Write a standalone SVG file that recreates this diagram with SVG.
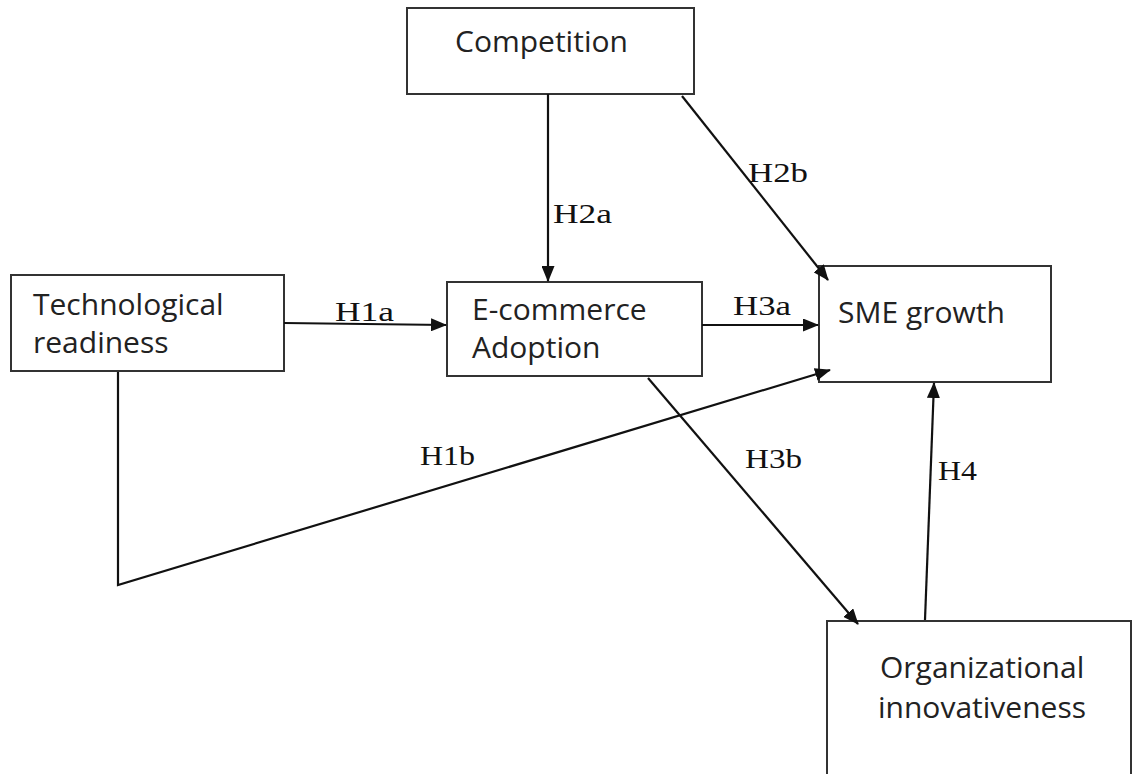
<svg xmlns="http://www.w3.org/2000/svg" width="1133" height="774" viewBox="0 0 1133 774">
<style>
.box{fill:#fff;stroke:#333;stroke-width:2}
.nt{font-family:"Open Sans","Liberation Sans",sans-serif;font-size:30px;fill:#222}
.lb{font-family:"Liberation Serif","Times New Roman",serif;font-size:28px;fill:#111}
.ln{fill:none;stroke:#111;stroke-width:2.2}
</style>
<defs>
<marker id="ah" viewBox="0 0 16 13" refX="15" refY="6.5" markerWidth="16" markerHeight="13" markerUnits="userSpaceOnUse" orient="auto">
<path d="M0,0 L16,6.5 L0,13 Z" fill="#111"/>
</marker>
</defs>
<rect width="1133" height="774" fill="#fff"/>
<g id="competition">
<rect class="box" x="407" y="8" width="287" height="86"/>
<text class="nt" x="455" y="52">Competition</text>
</g>
<g id="tech">
<rect class="box" x="11" y="275" width="273" height="96"/>
<text class="nt" x="33" y="315">Technological</text>
<text class="nt" x="33" y="353">readiness</text>
</g>
<g id="ecommerce">
<rect class="box" x="447" y="282" width="255" height="94"/>
<text class="nt" x="472" y="320">E-commerce</text>
<text class="nt" x="472" y="358">Adoption</text>
</g>
<g id="sme">
<rect class="box" x="819" y="266" width="232" height="116"/>
<text class="nt" x="838" y="323">SME growth</text>
</g>
<g id="org">
<rect class="box" x="827" y="621" width="304" height="170"/>
<text class="nt" x="880" y="678">Organizational</text>
<text class="nt" x="878" y="718">innovativeness</text>
</g>
<g id="connectors">
<line class="ln" x1="548" y1="94" x2="548" y2="281" marker-end="url(#ah)"/>
<line class="ln" x1="682" y1="96" x2="828" y2="280" marker-end="url(#ah)"/>
<line class="ln" x1="284" y1="323" x2="446" y2="325" marker-end="url(#ah)"/>
<line class="ln" x1="702" y1="325" x2="818" y2="325" marker-end="url(#ah)"/>
<polyline class="ln" points="118,372 118,585 830,370" marker-end="url(#ah)"/>
<line class="ln" x1="648" y1="378" x2="858" y2="624" marker-end="url(#ah)"/>
<line class="ln" x1="925" y1="620" x2="934" y2="383" marker-end="url(#ah)"/>
<text class="lb" x="553" y="223" textLength="59" lengthAdjust="spacingAndGlyphs">H2a</text>
<text class="lb" x="748" y="182" textLength="60" lengthAdjust="spacingAndGlyphs">H2b</text>
<text class="lb" x="335" y="321" textLength="59" lengthAdjust="spacingAndGlyphs">H1a</text>
<text class="lb" x="733" y="315" textLength="58" lengthAdjust="spacingAndGlyphs">H3a</text>
<text class="lb" x="420" y="465" textLength="55" lengthAdjust="spacingAndGlyphs">H1b</text>
<text class="lb" x="745" y="468" textLength="57" lengthAdjust="spacingAndGlyphs">H3b</text>
<text class="lb" x="938" y="480" textLength="39" lengthAdjust="spacingAndGlyphs">H4</text>
</g>
</svg>
